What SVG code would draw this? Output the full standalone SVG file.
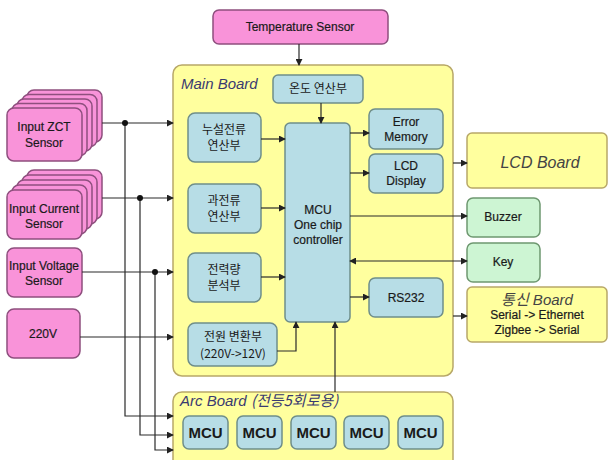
<svg xmlns="http://www.w3.org/2000/svg" width="608" height="460" viewBox="0 0 608 460">
<defs>
<marker id="ah" viewBox="0 0 8 8" refX="7" refY="4" markerWidth="7" markerHeight="7" markerUnits="userSpaceOnUse" orient="auto-start-reverse">
<path d="M0,0 L8,4 L0,8 z" fill="#222"/>
</marker>
<style>
.pink{fill:#F993D9;stroke:#8E4F7E;stroke-width:1.5}
.blue{fill:#B7DDE6;stroke:#6F8E8A;stroke-width:1.5}
.yel{fill:#FFFF9E;stroke:#B8A868;stroke-width:1.5}
.grn{fill:#CDF5D3;stroke:#6E9870;stroke-width:1.5}
.t{font-family:"Liberation Sans","Noto Sans CJK KR",sans-serif;font-size:12px;fill:#1a1a1a;text-anchor:middle;stroke:#1a1a1a;stroke-width:0.2}
.k{font-family:"Noto Sans CJK KR","Liberation Sans",sans-serif;font-size:12px;fill:#1a1a1a;text-anchor:middle}
.it{font-family:"Liberation Sans","Noto Sans CJK KR",sans-serif;font-style:italic;font-size:15px;fill:#3A3A70}
.mcu{font-family:"Liberation Sans",sans-serif;font-size:15px;font-weight:bold;fill:#1a1a1a;text-anchor:middle}
.c{fill:none;stroke:#2a2a2a;stroke-width:1.2}
.a{marker-end:url(#ah)}
</style>
</defs>
<g id="main-board"><rect class="yel" x="173" y="65" width="280" height="311" rx="9"/><text class="it" x="181" y="89">Main Board</text></g>
<g id="arc-board"><rect class="yel" x="173" y="392" width="280" height="80" rx="9"/><text class="it" x="180" y="406">Arc Board <tspan font-family="'Noto Sans CJK KR',sans-serif">(전등5회로용)</tspan></text></g>
<g id="temp-sensor"><rect class="pink" x="213" y="10" width="175" height="34" rx="6"/><text class="t" x="300" y="31">Temperature Sensor</text></g>
<g id="zct-sensor">
<rect class="pink" x="27" y="90" width="75" height="52" rx="7"/>
<rect class="pink" x="22" y="94.5" width="75" height="52" rx="7"/>
<rect class="pink" x="17" y="99" width="75" height="52" rx="7"/>
<rect class="pink" x="12" y="103.5" width="75" height="52" rx="7"/>
<rect class="pink" x="7" y="108" width="75" height="53" rx="7"/>
<text class="t" x="44" y="131">Input ZCT</text><text class="t" x="44" y="147">Sensor</text></g>
<g id="current-sensor">
<rect class="pink" x="27" y="170" width="75" height="49" rx="7"/>
<rect class="pink" x="22" y="175" width="75" height="49" rx="7"/>
<rect class="pink" x="17" y="180" width="75" height="49" rx="7"/>
<rect class="pink" x="12" y="185" width="75" height="49" rx="7"/>
<rect class="pink" x="7" y="190" width="75" height="49" rx="7"/>
<text class="t" x="44" y="213">Input Current</text><text class="t" x="44" y="228">Sensor</text></g>
<g id="voltage-sensor"><rect class="pink" x="7" y="248" width="75" height="49" rx="7"/><text class="t" x="44" y="270">Input Voltage</text><text class="t" x="44" y="285">Sensor</text></g>
<g id="v220"><rect class="pink" x="7" y="309" width="73" height="49" rx="7"/><text class="t" x="43" y="338">220V</text></g>
<g id="temp-calc"><rect class="blue" x="273" y="75" width="90" height="28" rx="5"/><text class="k" x="318" y="93">온도 연산부</text></g>
<g id="leak-calc"><rect class="blue" x="188" y="113" width="73" height="49" rx="7"/><text class="k" x="224" y="134">누설전류</text><text class="k" x="224" y="150">연산부</text></g>
<g id="over-calc"><rect class="blue" x="188" y="184" width="73" height="49" rx="7"/><text class="k" x="224" y="205">과전류</text><text class="k" x="224" y="221">연산부</text></g>
<g id="power-calc"><rect class="blue" x="188" y="253" width="73" height="49" rx="7"/><text class="k" x="224" y="274">전력량</text><text class="k" x="224" y="290">분석부</text></g>
<g id="psu"><rect class="blue" x="188" y="323" width="89" height="43" rx="7"/><text class="k" x="233" y="341">전원 변환부</text><text class="k" x="233" y="358">(220V-&gt;12V)</text></g>
<g id="mcu-main"><rect class="blue" x="285" y="123" width="65" height="199" rx="5"/><text class="t" x="318" y="214">MCU</text><text class="t" x="318" y="229">One chip</text><text class="t" x="318" y="244">controller</text></g>
<g id="error-memory"><rect class="blue" x="369" y="109" width="74" height="40" rx="6"/><text class="t" x="406" y="126">Error</text><text class="t" x="406" y="141">Memory</text></g>
<g id="lcd-display"><rect class="blue" x="369" y="154" width="74" height="39" rx="6"/><text class="t" x="406" y="170">LCD</text><text class="t" x="406" y="185">Display</text></g>
<g id="rs232"><rect class="blue" x="369" y="278" width="74" height="39" rx="6"/><text class="t" x="406" y="302">RS232</text></g>
<g id="lcd-board"><rect class="yel" x="467" y="133" width="140" height="55" rx="5"/><text class="it" x="540" y="168" text-anchor="middle" style="font-size:16px;fill:#444">LCD Board</text></g>
<g id="buzzer"><rect class="grn" x="467" y="198" width="73" height="39" rx="6"/><text class="t" x="503" y="221">Buzzer</text></g>
<g id="key"><rect class="grn" x="467" y="243" width="73" height="39" rx="6"/><text class="t" x="503" y="266">Key</text></g>
<g id="comm-board"><rect class="yel" x="467" y="287" width="140" height="55" rx="5"/><text class="it" x="537" y="305" text-anchor="middle" style="fill:#444"><tspan font-family="'Noto Sans CJK KR',sans-serif">통신</tspan> Board</text><text class="t" x="537" y="319">Serial -&gt; Ethernet</text><text class="t" x="537" y="334">Zigbee -&gt; Serial</text></g>
<g id="arc-mcus">
<rect class="blue" x="183" y="416" width="45" height="33" rx="6"/><text class="mcu" x="205.5" y="438">MCU</text>
<rect class="blue" x="237" y="416" width="45" height="33" rx="6"/><text class="mcu" x="259.5" y="438">MCU</text>
<rect class="blue" x="291" y="416" width="45" height="33" rx="6"/><text class="mcu" x="313.5" y="438">MCU</text>
<rect class="blue" x="344" y="416" width="45" height="33" rx="6"/><text class="mcu" x="366.5" y="438">MCU</text>
<rect class="blue" x="398" y="416" width="45" height="33" rx="6"/><text class="mcu" x="420.5" y="438">MCU</text>
</g>
<g id="connectors">
<path class="c a" d="M102,123 H173"/>
<path class="c a" d="M125,123 V416 H173"/>
<path class="c a" d="M102,198 H173"/>
<path class="c a" d="M140,198 V435 H173"/>
<path class="c a" d="M82,272 H173"/>
<path class="c a" d="M155,272 V450 H173"/>
<path class="c a" d="M80,337 H173"/>
<path class="c a" d="M299,44 V65"/>
<path class="c a" d="M321,103 V123"/>
<path class="c a" d="M261,139 H285"/>
<path class="c a" d="M261,208 H285"/>
<path class="c a" d="M261,277 H285"/>
<path class="c a" d="M277,351 H296 V322"/>
<path class="c a" d="M335,392 V322"/>
<path class="c a" d="M350,133 H369"/>
<path class="c a" d="M350,173 H369"/>
<path class="c a" d="M350,216 H467"/>
<path class="c a" d="M350,261 H467" marker-start="url(#ah)"/>
<path class="c a" d="M350,297 H369"/>
<path class="c a" d="M453,163 H467"/>
<path class="c a" d="M453,316 H467"/>
<circle cx="125" cy="123" r="3" fill="#111"/>
<circle cx="140" cy="198" r="3" fill="#111"/>
<circle cx="155" cy="272" r="3" fill="#111"/>
</g>
</svg>
